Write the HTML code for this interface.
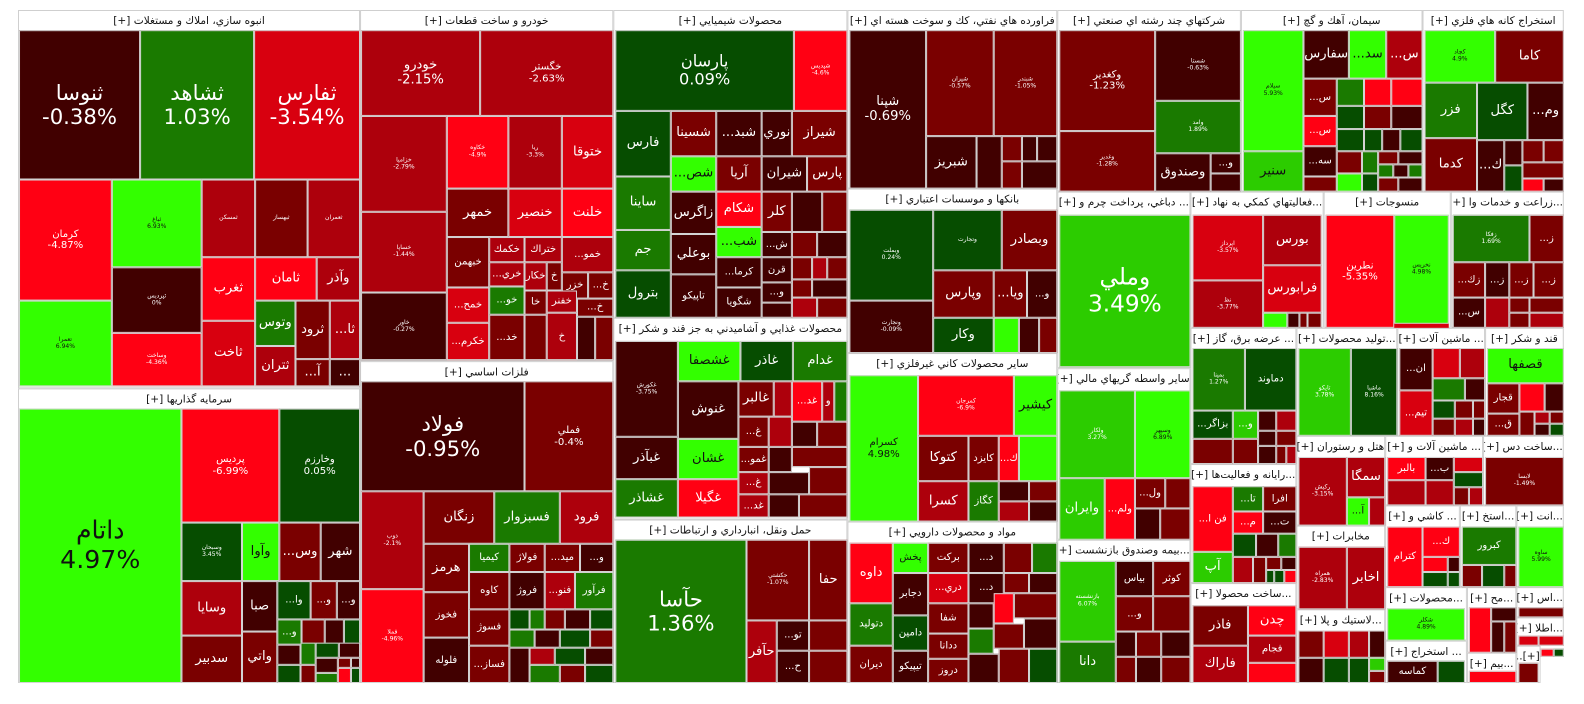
<!DOCTYPE html>
<html><head><meta charset="utf-8">
<style>
html,body{margin:0;padding:0;background:#fff;width:1584px;height:698px;overflow:hidden}
#w{position:absolute;left:0;top:0;width:1584px;height:698px;transform:scale(1.009);transform-origin:18px 10px;font-family:"DejaVu Sans","Liberation Sans",sans-serif}
.g{position:absolute;box-sizing:border-box;border:1px solid #cfcfcf;background:#fff}
.g>span{display:block;height:20px;line-height:20px;text-align:center;font-size:10.5px;color:#111;direction:rtl;white-space:nowrap;overflow:hidden}
.c{position:absolute;box-sizing:border-box;border:1px solid #d4d4d4;display:flex;align-items:center;justify-content:center;text-align:center;color:#fff;direction:ltr;overflow:hidden;line-height:1.15;font-size:12px;white-space:nowrap}
.a{background:#410000}.b{background:#7a0000}.cc{background:#ad000c}.d{background:#d8000f}.e{background:#ff0013}
.f{background:#064d00}.gg{background:#1a7a00}.h{background:#2ccc00}.i{background:#33ff00;color:#111}
.B{font-size:21px}.M{font-size:13px}.S{font-size:10px}.X{font-size:6px}
</style></head><body><div id="w">
<!-- groups -->
<div class="g" style="left:18px;top:10px;width:339px;height:375px"><span>انبوه سازي، املاك و مستغلات [+]</span></div>
<div class="g" style="left:18px;top:385px;width:339px;height:292px"><span>سرمايه گذاريها [+]</span></div>
<div class="g" style="left:357px;top:10px;width:251px;height:348px"><span>خودرو و ساخت قطعات [+]</span></div>
<div class="g" style="left:357px;top:358px;width:251px;height:319px"><span>فلزات اساسي [+]</span></div>
<div class="g" style="left:608px;top:10px;width:232px;height:305px"><span>محصولات شيميايي [+]</span></div>
<div class="g" style="left:608px;top:315px;width:232px;height:200px"><span>محصولات غذايي و آشاميدني به جز قند و شكر [+]</span></div>
<div class="g" style="left:608px;top:515px;width:232px;height:162px"><span>حمل ونقل، انبارداري و ارتباطات [+]</span></div>
<div class="g" style="left:840px;top:10px;width:208px;height:177px"><span>فراورده هاي نفتي، كك و سوخت هسته اي [+]</span></div>
<div class="g" style="left:840px;top:187px;width:208px;height:163px"><span>بانكها و موسسات اعتباري [+]</span></div>
<div class="g" style="left:840px;top:350px;width:208px;height:167px"><span>ساير محصولات كاني غيرفلزي [+]</span></div>
<div class="g" style="left:840px;top:517px;width:208px;height:160px"><span>مواد و محصولات دارويي [+]</span></div>
<div class="g" style="left:1048px;top:10px;width:182px;height:180px"><span>شركتهاي چند رشته اي صنعتي [+]</span></div>
<div class="g" style="left:1230px;top:10px;width:180px;height:180px"><span>سيمان، آهك و گچ [+]</span></div>
<div class="g" style="left:1410px;top:10px;width:140px;height:180px"><span>استخراج كانه هاي فلزي [+]</span></div>
<div class="g" style="left:1048px;top:190px;width:132px;height:175px"><span>... دباغي، پرداخت چرم و [+]</span></div>
<div class="g" style="left:1180px;top:190px;width:132px;height:135px"><span>...فعاليتهاي كمكي به نهاد [+]</span></div>
<div class="g" style="left:1312px;top:190px;width:126px;height:135px"><span>منسوجات [+]</span></div>
<div class="g" style="left:1438px;top:190px;width:112px;height:135px"><span>...زراعت و خدمات وا [+]</span></div>
<div class="g" style="left:1048px;top:365px;width:132px;height:170px"><span>ساير واسطه گريهاي مالي [+]</span></div>
<div class="g" style="left:1048px;top:535px;width:132px;height:142px"><span>...بيمه وصندوق بازنشست [+]</span></div>
<div class="g" style="left:1180px;top:325px;width:105px;height:135px"><span>... عرضه برق، گاز [+]</span></div>
<div class="g" style="left:1285px;top:325px;width:100px;height:107px"><span>...توليد محصولات [+]</span></div>
<div class="g" style="left:1385px;top:325px;width:87px;height:107px"><span>... ماشين آلات [+]</span></div>
<div class="g" style="left:1472px;top:325px;width:78px;height:107px"><span>قند و شكر [+]</span></div>
<div class="g" style="left:1180px;top:460px;width:105px;height:118px"><span>...رايانه و فعاليت‌ها [+]</span></div>
<div class="g" style="left:1180px;top:578px;width:105px;height:99px"><span>...ساخت محصولا [+]</span></div>
<div class="g" style="left:1285px;top:432px;width:88px;height:89px"><span>هتل و رستوران [+]</span></div>
<div class="g" style="left:1373px;top:432px;width:97px;height:69px"><span>... ماشين آلات و [+]</span></div>
<div class="g" style="left:1470px;top:432px;width:80px;height:69px"><span>...ساخت دس [+]</span></div>
<div class="g" style="left:1285px;top:521px;width:88px;height:83px"><span>مخابرات [+]</span></div>
<div class="g" style="left:1285px;top:604px;width:88px;height:73px"><span>...لاستيك و پلا [+]</span></div>
<div class="g" style="left:1373px;top:501px;width:74px;height:81px"><span>... كاشي و [+]</span></div>
<div class="g" style="left:1447px;top:501px;width:56px;height:81px"><span>...استخ [+]</span></div>
<div class="g" style="left:1503px;top:501px;width:47px;height:81px"><span>...انت [+]</span></div>
<div class="g" style="left:1373px;top:582px;width:81px;height:53px"><span>...محصولات [+]</span></div>
<div class="g" style="left:1373px;top:635px;width:81px;height:42px"><span>... استخراج [+]</span></div>
<div class="g" style="left:1454px;top:582px;width:49px;height:65px"><span>...مح [+]</span></div>
<div class="g" style="left:1454px;top:647px;width:49px;height:30px"><span>...بيم [+]</span></div>
<div class="g" style="left:1503px;top:582px;width:47px;height:30px"><span>...اس [+]</span></div>
<div class="g" style="left:1503px;top:612px;width:47px;height:28px"><span>...اطلا [+]</span></div>
<div class="g" style="left:1503px;top:640px;width:24px;height:37px"><span>[+]...</span></div>

<!-- A -->
<div class="c a B" style="left:19px;top:30px;width:120px;height:148px">ثنوسا<br>-0.38%</div>
<div class="c gg B" style="left:139px;top:30px;width:113px;height:148px">ثشاهد<br>1.03%</div>
<div class="c d B" style="left:252px;top:30px;width:105px;height:148px">ثفارس<br>-3.54%</div>
<div class="c e S" style="left:19px;top:178px;width:92px;height:120px">كرمان<br>-4.87%</div>
<div class="c i X" style="left:111px;top:178px;width:89px;height:87px">ثباغ<br>6.93%</div>
<div class="c cc X" style="left:200px;top:178px;width:53px;height:77px">ثمسكن</div>
<div class="c b X" style="left:253px;top:178px;width:52px;height:77px">ثبهساز</div>
<div class="c cc X" style="left:305px;top:178px;width:52px;height:77px">ثعمران</div>
<div class="c e M" style="left:253px;top:255px;width:61px;height:43px">ثامان</div>
<div class="c cc M" style="left:314px;top:255px;width:43px;height:43px">وآذر</div>
<div class="c e M" style="left:200px;top:255px;width:53px;height:63px">ثغرب</div>
<div class="c d M" style="left:200px;top:318px;width:53px;height:65px">ثاخت</div>
<div class="c gg M" style="left:253px;top:298px;width:40px;height:45px">وتوس</div>
<div class="c b M" style="left:293px;top:298px;width:34px;height:58px">ثرود</div>
<div class="c cc M" style="left:327px;top:298px;width:30px;height:58px">...ثا</div>
<div class="c cc M" style="left:253px;top:343px;width:40px;height:40px">ثتران</div>
<div class="c b M" style="left:293px;top:356px;width:34px;height:27px">...آ</div>
<div class="c a M" style="left:327px;top:356px;width:30px;height:27px">...</div>
<div class="c a X" style="left:111px;top:265px;width:89px;height:65px">ثپردیس<br>0%</div>
<div class="c e X" style="left:111px;top:330px;width:89px;height:53px">وساخت<br>-4.36%</div>
<div class="c i X" style="left:19px;top:298px;width:92px;height:85px">تعمرا<br>6.94%</div>
<!-- B -->
<div class="c i" style="left:19px;top:405px;width:161px;height:272px;font-size:25px">داتام<br>4.97%</div>
<div class="c e S" style="left:180px;top:405px;width:97px;height:113px">پرديس<br>-6.99%</div>
<div class="c f S" style="left:277px;top:405px;width:80px;height:113px">وخارزم<br>0.05%</div>
<div class="c f X" style="left:180px;top:518px;width:60px;height:58px">وسبحان<br>3.45%</div>
<div class="c i M" style="left:240px;top:518px;width:37px;height:58px">وآوا</div>
<div class="c b M" style="left:277px;top:518px;width:41px;height:58px">...وس</div>
<div class="c a M" style="left:318px;top:518px;width:39px;height:58px">شهر</div>
<div class="c cc M" style="left:180px;top:576px;width:60px;height:54px">وسايا</div>
<div class="c b M" style="left:180px;top:630px;width:60px;height:47px">سدبير</div>
<div class="c a M" style="left:240px;top:576px;width:35px;height:50px">صبا</div>
<div class="c b M" style="left:240px;top:626px;width:35px;height:51px">واتي</div>
<div class="c f S" style="left:275px;top:576px;width:33px;height:38px">...وا</div>
<div class="c b S" style="left:308px;top:576px;width:26px;height:38px">...و</div>
<div class="c a S" style="left:334px;top:576px;width:23px;height:38px">...و</div>
<div class="c gg S" style="left:275px;top:614px;width:24px;height:25px">...و</div>
<div class="c b" style="left:299px;top:614px;width:23px;height:25px"></div>
<div class="c a" style="left:322px;top:614px;width:19px;height:25px"></div>
<div class="c f" style="left:341px;top:614px;width:16px;height:25px"></div>
<div class="c a" style="left:275px;top:639px;width:23px;height:20px"></div>
<div class="c f" style="left:275px;top:659px;width:23px;height:18px"></div>
<div class="c gg" style="left:298px;top:637px;width:15px;height:22px"></div>
<div class="c b" style="left:298px;top:659px;width:15px;height:18px"></div>
<div class="c f" style="left:313px;top:637px;width:23px;height:15px"></div>
<div class="c a" style="left:336px;top:637px;width:21px;height:15px"></div>
<div class="c a" style="left:313px;top:652px;width:22px;height:15px"></div>
<div class="c gg" style="left:313px;top:667px;width:22px;height:10px"></div>
<div class="c b" style="left:335px;top:652px;width:13px;height:10px"></div>
<div class="c a" style="left:348px;top:652px;width:9px;height:10px"></div>
<div class="c e" style="left:335px;top:662px;width:13px;height:15px"></div>
<div class="c f" style="left:348px;top:662px;width:9px;height:15px"></div>
<!-- C -->
<div class="c cc M" style="left:358px;top:30px;width:118px;height:85px">خودرو<br>-2.15%</div>
<div class="c cc S" style="left:476px;top:30px;width:132px;height:85px">خگستر<br>-2.63%</div>
<div class="c cc X" style="left:358px;top:115px;width:85px;height:95px">خزاميا<br>-2.79%</div>
<div class="c cc X" style="left:358px;top:210px;width:85px;height:80px">خساپا<br>-1.44%</div>
<div class="c a X" style="left:358px;top:290px;width:85px;height:67px">خاور<br>-0.27%</div>
<div class="c e X" style="left:443px;top:115px;width:61px;height:72px">خكاوه<br>-4.9%</div>
<div class="c cc X" style="left:504px;top:115px;width:53px;height:72px">ريا<br>-3.3%</div>
<div class="c d M" style="left:557px;top:115px;width:51px;height:72px">ختوقا</div>
<div class="c b M" style="left:443px;top:187px;width:61px;height:48px">خمهر</div>
<div class="c d M" style="left:504px;top:187px;width:53px;height:48px">خنصير</div>
<div class="c e M" style="left:557px;top:187px;width:51px;height:48px">خلنت</div>
<div class="c b S" style="left:443px;top:235px;width:42px;height:50px">خبهمن</div>
<div class="c cc S" style="left:485px;top:235px;width:35px;height:25px">خكمك</div>
<div class="c cc S" style="left:520px;top:235px;width:37px;height:25px">ختراك</div>
<div class="c cc S" style="left:557px;top:235px;width:51px;height:35px">...خمو</div>
<div class="c cc S" style="left:485px;top:260px;width:35px;height:24px">...خري</div>
<div class="c cc S" style="left:520px;top:260px;width:22px;height:28px">خكار</div>
<div class="c b S" style="left:542px;top:260px;width:15px;height:28px">خ</div>
<div class="c b S" style="left:557px;top:270px;width:26px;height:26px">خزر</div>
<div class="c b S" style="left:583px;top:270px;width:25px;height:26px">...خ</div>
<div class="c d S" style="left:443px;top:285px;width:42px;height:35px">...خمح</div>
<div class="c gg S" style="left:485px;top:284px;width:35px;height:28px">...خو</div>
<div class="c b S" style="left:520px;top:288px;width:22px;height:24px">خا</div>
<div class="c cc S" style="left:542px;top:288px;width:30px;height:22px">خفنر</div>
<div class="c b S" style="left:572px;top:296px;width:36px;height:18px">...خ</div>
<div class="c d S" style="left:443px;top:320px;width:42px;height:37px">...خكرم</div>
<div class="c b S" style="left:485px;top:312px;width:35px;height:45px">...خد</div>
<div class="c b" style="left:520px;top:312px;width:22px;height:45px"></div>
<div class="c cc S" style="left:542px;top:310px;width:30px;height:47px">خ</div>
<div class="c a" style="left:572px;top:314px;width:18px;height:43px"></div>
<div class="c b" style="left:590px;top:314px;width:18px;height:43px"></div>
<!-- D -->
<div class="c a B" style="left:358px;top:378px;width:162px;height:109px">فولاد<br>-0.95%</div>
<div class="c b S" style="left:520px;top:378px;width:88px;height:109px">فملي<br>-0.4%</div>
<div class="c cc X" style="left:358px;top:487px;width:62px;height:97px">ذوب<br>-2.1%</div>
<div class="c e X" style="left:358px;top:584px;width:62px;height:93px">فملا<br>-4.96%</div>
<div class="c b M" style="left:420px;top:487px;width:70px;height:52px">زنگان</div>
<div class="c gg M" style="left:490px;top:487px;width:65px;height:52px">فسبزوار</div>
<div class="c cc M" style="left:555px;top:487px;width:53px;height:52px">فرود</div>
<div class="c b M" style="left:420px;top:539px;width:45px;height:48px">هرمز</div>
<div class="c gg S" style="left:465px;top:539px;width:40px;height:28px">كيميا</div>
<div class="c b S" style="left:505px;top:539px;width:35px;height:28px">فولاژ</div>
<div class="c b S" style="left:540px;top:539px;width:35px;height:28px">...ميد</div>
<div class="c a S" style="left:575px;top:539px;width:33px;height:28px">...و</div>
<div class="c b S" style="left:420px;top:587px;width:45px;height:45px">فخوز</div>
<div class="c a S" style="left:420px;top:632px;width:45px;height:45px">فلوله</div>
<div class="c b S" style="left:465px;top:567px;width:40px;height:37px">كاوه</div>
<div class="c a S" style="left:505px;top:567px;width:35px;height:37px">فروژ</div>
<div class="c cc S" style="left:540px;top:567px;width:30px;height:37px">...فنو</div>
<div class="c gg S" style="left:570px;top:567px;width:38px;height:37px">فرآور</div>
<div class="c b S" style="left:465px;top:604px;width:40px;height:36px">فسوژ</div>
<div class="c b S" style="left:465px;top:640px;width:40px;height:37px">...فساز</div>
<div class="c f" style="left:505px;top:604px;width:20px;height:20px"></div>
<div class="c gg" style="left:525px;top:604px;width:15px;height:20px"></div>
<div class="c b" style="left:540px;top:604px;width:20px;height:20px"></div>
<div class="c a" style="left:560px;top:604px;width:25px;height:20px"></div>
<div class="c f" style="left:585px;top:604px;width:23px;height:20px"></div>
<div class="c gg" style="left:505px;top:624px;width:25px;height:18px"></div>
<div class="c a" style="left:530px;top:624px;width:25px;height:18px"></div>
<div class="c f" style="left:555px;top:624px;width:30px;height:18px"></div>
<div class="c b" style="left:585px;top:624px;width:23px;height:18px"></div>
<div class="c a" style="left:505px;top:642px;width:20px;height:35px"></div>
<div class="c cc" style="left:525px;top:642px;width:25px;height:17px"></div>
<div class="c f" style="left:550px;top:642px;width:30px;height:17px"></div>
<div class="c a" style="left:580px;top:642px;width:28px;height:17px"></div>
<div class="c gg" style="left:525px;top:659px;width:30px;height:18px"></div>
<div class="c b" style="left:555px;top:659px;width:25px;height:18px"></div>
<div class="c f" style="left:580px;top:659px;width:28px;height:18px"></div>
<!-- E -->
<div class="c f" style="left:610px;top:30px;width:177px;height:80px;font-size:16px">پارسان<br>0.09%</div>
<div class="c e X" style="left:787px;top:30px;width:53px;height:80px">شپديس<br>-4.6%</div>
<div class="c f M" style="left:610px;top:110px;width:55px;height:65px">فارس</div>
<div class="c b M" style="left:665px;top:110px;width:45px;height:45px">شسينا</div>
<div class="c a M" style="left:710px;top:110px;width:45px;height:45px">...شبد</div>
<div class="c a M" style="left:755px;top:110px;width:30px;height:45px">نوري</div>
<div class="c b M" style="left:785px;top:110px;width:55px;height:45px">شيراز</div>
<div class="c gg M" style="left:610px;top:175px;width:55px;height:53px">ساينا</div>
<div class="c gg M" style="left:610px;top:228px;width:55px;height:40px">جم</div>
<div class="c f M" style="left:610px;top:268px;width:55px;height:47px">بترول</div>
<div class="c i M" style="left:665px;top:155px;width:45px;height:35px">...شص</div>
<div class="c a M" style="left:665px;top:190px;width:45px;height:42px">زاگرس</div>
<div class="c a M" style="left:665px;top:232px;width:45px;height:40px">بوعلي</div>
<div class="c a S" style="left:665px;top:272px;width:45px;height:43px">تاپيكو</div>
<div class="c b M" style="left:710px;top:155px;width:45px;height:35px">آريا</div>
<div class="c a M" style="left:755px;top:155px;width:45px;height:35px">شيران</div>
<div class="c b M" style="left:800px;top:155px;width:40px;height:35px">پارس</div>
<div class="c e M" style="left:710px;top:190px;width:45px;height:35px">شكام</div>
<div class="c b M" style="left:755px;top:190px;width:30px;height:40px">كلر</div>
<div class="c a" style="left:785px;top:190px;width:30px;height:40px"></div>
<div class="c b" style="left:815px;top:190px;width:25px;height:40px"></div>
<div class="c i M" style="left:710px;top:225px;width:45px;height:30px">...شب</div>
<div class="c a S" style="left:755px;top:230px;width:30px;height:25px">...ش</div>
<div class="c b" style="left:785px;top:230px;width:25px;height:25px"></div>
<div class="c a" style="left:810px;top:230px;width:30px;height:25px"></div>
<div class="c a S" style="left:710px;top:255px;width:45px;height:30px">...كرما</div>
<div class="c a S" style="left:755px;top:255px;width:30px;height:25px">قرن</div>
<div class="c b" style="left:785px;top:255px;width:20px;height:22px"></div>
<div class="c cc" style="left:805px;top:255px;width:15px;height:22px"></div>
<div class="c b" style="left:820px;top:255px;width:20px;height:22px"></div>
<div class="c a S" style="left:710px;top:285px;width:45px;height:30px">شگويا</div>
<div class="c a S" style="left:755px;top:280px;width:30px;height:20px">...و</div>
<div class="c b" style="left:785px;top:277px;width:20px;height:18px"></div>
<div class="c a" style="left:805px;top:277px;width:35px;height:18px"></div>
<div class="c a" style="left:755px;top:300px;width:30px;height:15px"></div>
<div class="c cc" style="left:785px;top:295px;width:25px;height:20px"></div>
<div class="c b" style="left:810px;top:295px;width:30px;height:20px"></div>
<!-- F -->
<div class="c a X" style="left:610px;top:338px;width:62px;height:95px">غكورش<br>-3.75%</div>
<div class="c i M" style="left:672px;top:338px;width:62px;height:40px">غشصفا</div>
<div class="c f M" style="left:734px;top:338px;width:52px;height:40px">غاذر</div>
<div class="c gg M" style="left:786px;top:338px;width:54px;height:40px">غدام</div>
<div class="c a M" style="left:610px;top:433px;width:62px;height:42px">غبآذر</div>
<div class="c gg M" style="left:610px;top:475px;width:62px;height:38px">غشاذر</div>
<div class="c a M" style="left:672px;top:378px;width:60px;height:57px">غنوش</div>
<div class="c b M" style="left:732px;top:378px;width:35px;height:35px">غالبر</div>
<div class="c cc" style="left:767px;top:378px;width:18px;height:35px"></div>
<div class="c e S" style="left:785px;top:378px;width:30px;height:40px">...غد</div>
<div class="c cc S" style="left:815px;top:378px;width:12px;height:40px">و</div>
<div class="c gg" style="left:827px;top:378px;width:13px;height:40px"></div>
<div class="c i M" style="left:672px;top:435px;width:60px;height:40px">غشان</div>
<div class="c b S" style="left:732px;top:413px;width:30px;height:30px">...غ</div>
<div class="c cc" style="left:762px;top:413px;width:23px;height:30px"></div>
<div class="c a" style="left:785px;top:418px;width:25px;height:25px"></div>
<div class="c b" style="left:810px;top:418px;width:30px;height:25px"></div>
<div class="c e M" style="left:672px;top:475px;width:60px;height:38px">غگيلا</div>
<div class="c b S" style="left:732px;top:443px;width:30px;height:25px">...غمو</div>
<div class="c a" style="left:762px;top:443px;width:23px;height:25px"></div>
<div class="c b" style="left:785px;top:443px;width:55px;height:20px"></div>
<div class="c cc S" style="left:732px;top:468px;width:30px;height:22px">...غ</div>
<div class="c a" style="left:762px;top:468px;width:40px;height:22px"></div>
<div class="c b" style="left:802px;top:463px;width:38px;height:27px"></div>
<div class="c cc S" style="left:732px;top:490px;width:30px;height:23px">...غد</div>
<div class="c a" style="left:762px;top:490px;width:30px;height:23px"></div>
<div class="c b" style="left:792px;top:490px;width:48px;height:23px"></div>
<!-- G -->
<div class="c gg B" style="left:610px;top:535px;width:130px;height:142px">حآسا<br>1.36%</div>
<div class="c b X" style="left:740px;top:535px;width:62px;height:80px">حكشتي<br>-1.07%</div>
<div class="c b M" style="left:802px;top:535px;width:38px;height:80px">حفا</div>
<div class="c cc M" style="left:740px;top:615px;width:30px;height:62px">حآفر</div>
<div class="c a S" style="left:770px;top:615px;width:32px;height:30px">...تو</div>
<div class="c b" style="left:802px;top:615px;width:38px;height:30px"></div>
<div class="c a S" style="left:770px;top:645px;width:32px;height:32px">...ح</div>
<div class="c b" style="left:802px;top:645px;width:38px;height:32px"></div>
<!-- H -->
<div class="c a M" style="left:842px;top:30px;width:76px;height:157px">شپنا<br>-0.69%</div>
<div class="c b X" style="left:918px;top:30px;width:67px;height:105px">شپران<br>-0.57%</div>
<div class="c b X" style="left:985px;top:30px;width:63px;height:105px">شبندر<br>-1.05%</div>
<div class="c a M" style="left:918px;top:135px;width:50px;height:52px">شبريز</div>
<div class="c a" style="left:968px;top:135px;width:25px;height:52px"></div>
<div class="c b" style="left:993px;top:135px;width:20px;height:25px"></div>
<div class="c a" style="left:1013px;top:135px;width:15px;height:25px"></div>
<div class="c a" style="left:1028px;top:135px;width:20px;height:25px"></div>
<div class="c b" style="left:993px;top:160px;width:20px;height:27px"></div>
<div class="c a" style="left:1013px;top:160px;width:35px;height:27px"></div>
<!-- I -->
<div class="c f X" style="left:842px;top:208px;width:83px;height:90px">وبملت<br>0.24%</div>
<div class="c f X" style="left:925px;top:208px;width:68px;height:60px">وتجارت</div>
<div class="c b M" style="left:993px;top:208px;width:55px;height:60px">وبصادر</div>
<div class="c a X" style="left:842px;top:298px;width:83px;height:52px">ونجارت<br>-0.09%</div>
<div class="c b M" style="left:925px;top:268px;width:60px;height:47px">وپارس</div>
<div class="c b M" style="left:985px;top:268px;width:33px;height:47px">...ويا</div>
<div class="c a S" style="left:1018px;top:268px;width:30px;height:47px">...و</div>
<div class="c f M" style="left:925px;top:315px;width:60px;height:35px">وكار</div>
<div class="c i" style="left:985px;top:315px;width:25px;height:35px"></div>
<div class="c a" style="left:1010px;top:315px;width:20px;height:35px"></div>
<div class="c b" style="left:1030px;top:315px;width:18px;height:35px"></div>
<!-- J -->
<div class="c i S" style="left:842px;top:372px;width:68px;height:145px">كسرام<br>4.98%</div>
<div class="c e X" style="left:910px;top:372px;width:95px;height:60px">كمرجان<br>-6.9%</div>
<div class="c i M" style="left:1005px;top:372px;width:43px;height:60px">كيشير</div>
<div class="c b M" style="left:910px;top:432px;width:50px;height:45px">كتوكا</div>
<div class="c b S" style="left:960px;top:432px;width:30px;height:45px">كايزد</div>
<div class="c e S" style="left:990px;top:432px;width:20px;height:45px">...ك</div>
<div class="c i" style="left:1010px;top:432px;width:38px;height:45px"></div>
<div class="c cc M" style="left:910px;top:477px;width:50px;height:40px">كسرا</div>
<div class="c gg S" style="left:960px;top:477px;width:30px;height:40px">كگاز</div>
<div class="c a" style="left:990px;top:477px;width:30px;height:20px"></div>
<div class="c b" style="left:1020px;top:477px;width:28px;height:20px"></div>
<div class="c cc" style="left:990px;top:497px;width:30px;height:20px"></div>
<div class="c a" style="left:1020px;top:497px;width:28px;height:20px"></div>
<!-- K -->
<div class="c e M" style="left:842px;top:538px;width:43px;height:60px">داوه</div>
<div class="c i S" style="left:885px;top:538px;width:35px;height:30px">پخش</div>
<div class="c b S" style="left:920px;top:538px;width:40px;height:30px">بركت</div>
<div class="c a S" style="left:960px;top:538px;width:35px;height:30px">...د</div>
<div class="c b" style="left:995px;top:538px;width:28px;height:30px"></div>
<div class="c gg" style="left:1023px;top:538px;width:25px;height:30px"></div>
<div class="c gg S" style="left:842px;top:598px;width:43px;height:42px">دتوليد</div>
<div class="c b S" style="left:842px;top:640px;width:43px;height:37px">ديران</div>
<div class="c a S" style="left:885px;top:568px;width:35px;height:42px">دجابر</div>
<div class="c f S" style="left:885px;top:610px;width:35px;height:35px">دامين</div>
<div class="c a S" style="left:885px;top:645px;width:35px;height:32px">تيپيكو</div>
<div class="c d S" style="left:920px;top:568px;width:40px;height:30px">...دري</div>
<div class="c a S" style="left:960px;top:568px;width:35px;height:30px">...د</div>
<div class="c b" style="left:995px;top:568px;width:25px;height:20px"></div>
<div class="c a" style="left:1020px;top:568px;width:28px;height:20px"></div>
<div class="c b S" style="left:920px;top:598px;width:40px;height:30px">شفا</div>
<div class="c b S" style="left:920px;top:628px;width:40px;height:25px">ددانا</div>
<div class="c b S" style="left:920px;top:653px;width:40px;height:24px">دروز</div>
<div class="c a" style="left:960px;top:598px;width:25px;height:25px"></div>
<div class="c e" style="left:985px;top:588px;width:20px;height:30px"></div>
<div class="c b" style="left:1005px;top:588px;width:43px;height:25px"></div>
<div class="c gg" style="left:960px;top:623px;width:25px;height:25px"></div>
<div class="c b" style="left:985px;top:618px;width:30px;height:25px"></div>
<div class="c a" style="left:1015px;top:613px;width:33px;height:30px"></div>
<div class="c a" style="left:960px;top:648px;width:30px;height:29px"></div>
<div class="c b" style="left:990px;top:643px;width:30px;height:34px"></div>
<div class="c f" style="left:1020px;top:643px;width:28px;height:34px"></div>
<!-- L -->
<div class="c b S" style="left:1050px;top:30px;width:95px;height:100px">وكغدير<br>-1.23%</div>
<div class="c a X" style="left:1145px;top:30px;width:85px;height:70px">شستا<br>-0.63%</div>
<div class="c gg X" style="left:1145px;top:100px;width:85px;height:52px">وامد<br>1.89%</div>
<div class="c b X" style="left:1050px;top:130px;width:95px;height:60px">وغدير<br>-1.28%</div>
<div class="c a M" style="left:1145px;top:152px;width:55px;height:38px">وصندوق</div>
<div class="c a S" style="left:1200px;top:152px;width:30px;height:20px">...و</div>
<div class="c a" style="left:1200px;top:172px;width:30px;height:18px"></div>
<!-- P -->
<div class="c i X" style="left:1232px;top:30px;width:60px;height:120px">سيلام<br>5.93%</div>
<div class="c h M" style="left:1232px;top:150px;width:60px;height:40px;color:#111">سنير</div>
<div class="c a M" style="left:1292px;top:30px;width:45px;height:48px">سفارس</div>
<div class="c i M" style="left:1337px;top:30px;width:37px;height:48px">...سد</div>
<div class="c cc M" style="left:1374px;top:30px;width:36px;height:48px">...س</div>
<div class="c b S" style="left:1292px;top:78px;width:33px;height:37px">...س</div>
<div class="c e S" style="left:1292px;top:115px;width:33px;height:30px">...س</div>
<div class="c a S" style="left:1292px;top:145px;width:33px;height:30px">...سه</div>
<div class="c b" style="left:1292px;top:175px;width:33px;height:15px"></div>
<div class="c gg" style="left:1325px;top:78px;width:27px;height:27px"></div>
<div class="c e" style="left:1352px;top:78px;width:27px;height:27px"></div>
<div class="c e" style="left:1379px;top:78px;width:31px;height:27px"></div>
<div class="c f" style="left:1325px;top:105px;width:27px;height:23px"></div>
<div class="c b" style="left:1352px;top:105px;width:27px;height:23px"></div>
<div class="c a" style="left:1379px;top:105px;width:31px;height:23px"></div>
<div class="c f" style="left:1325px;top:128px;width:27px;height:22px"></div>
<div class="c f" style="left:1352px;top:128px;width:18px;height:22px"></div>
<div class="c a" style="left:1370px;top:128px;width:18px;height:22px"></div>
<div class="c f" style="left:1388px;top:128px;width:22px;height:22px"></div>
<div class="c b" style="left:1325px;top:150px;width:25px;height:22px"></div>
<div class="c gg" style="left:1350px;top:150px;width:16px;height:22px"></div>
<div class="c b" style="left:1366px;top:150px;width:20px;height:13px"></div>
<div class="c a" style="left:1386px;top:150px;width:24px;height:13px"></div>
<div class="c gg" style="left:1366px;top:163px;width:15px;height:13px"></div>
<div class="c a" style="left:1381px;top:163px;width:15px;height:13px"></div>
<div class="c gg" style="left:1396px;top:163px;width:14px;height:13px"></div>
<div class="c i" style="left:1325px;top:172px;width:25px;height:18px"></div>
<div class="c f" style="left:1350px;top:172px;width:16px;height:18px"></div>
<div class="c b" style="left:1366px;top:176px;width:20px;height:14px"></div>
<div class="c a" style="left:1386px;top:176px;width:24px;height:14px"></div>
<!-- Q -->
<div class="c i X" style="left:1412px;top:30px;width:70px;height:52px">كچاد<br>4.9%</div>
<div class="c b M" style="left:1482px;top:30px;width:68px;height:52px">كاما</div>
<div class="c gg M" style="left:1412px;top:82px;width:52px;height:55px">فزر</div>
<div class="c f M" style="left:1464px;top:82px;width:50px;height:57px">كگل</div>
<div class="c a M" style="left:1514px;top:82px;width:36px;height:57px">...وم</div>
<div class="c b M" style="left:1412px;top:137px;width:52px;height:53px">كدما</div>
<div class="c a M" style="left:1464px;top:139px;width:27px;height:51px">...ك</div>
<div class="c a" style="left:1491px;top:139px;width:18px;height:25px"></div>
<div class="c b" style="left:1509px;top:139px;width:21px;height:22px"></div>
<div class="c b" style="left:1530px;top:139px;width:20px;height:22px"></div>
<div class="c f" style="left:1491px;top:164px;width:18px;height:26px"></div>
<div class="c b" style="left:1509px;top:161px;width:41px;height:16px"></div>
<div class="c e" style="left:1509px;top:177px;width:21px;height:13px"></div>
<div class="c a" style="left:1530px;top:177px;width:20px;height:13px"></div>
<!-- M -->
<div class="c h" style="left:1050px;top:213px;width:130px;height:151px;font-size:23px">وملي<br>3.49%</div>
<!-- R -->
<div class="c d X" style="left:1182px;top:213px;width:70px;height:65px">اپرداز<br>-3.57%</div>
<div class="c cc M" style="left:1252px;top:213px;width:58px;height:50px">بورس</div>
<div class="c cc X" style="left:1182px;top:278px;width:70px;height:47px">نظ<br>-3.77%</div>
<div class="c d M" style="left:1252px;top:263px;width:58px;height:47px">فرابورس</div>
<div class="c i" style="left:1252px;top:310px;width:24px;height:15px"></div>
<div class="c a" style="left:1276px;top:310px;width:12px;height:15px"></div>
<div class="c b" style="left:1288px;top:310px;width:8px;height:15px"></div>
<div class="c b" style="left:1296px;top:310px;width:14px;height:15px"></div>
<!-- S -->
<div class="c e S" style="left:1314px;top:213px;width:68px;height:112px">نطرين<br>-5.35%</div>
<div class="c i X" style="left:1382px;top:213px;width:54px;height:108px">نخريس<br>4.98%</div>
<div class="c d" style="left:1382px;top:321px;width:54px;height:4px;border:0"></div>
<!-- T -->
<div class="c gg X" style="left:1440px;top:213px;width:76px;height:47px">زفكا<br>1.69%</div>
<div class="c b S" style="left:1516px;top:213px;width:34px;height:47px">...ز</div>
<div class="c b S" style="left:1440px;top:260px;width:32px;height:35px">...زك</div>
<div class="c a S" style="left:1472px;top:260px;width:24px;height:35px">...ز</div>
<div class="c b S" style="left:1496px;top:260px;width:24px;height:35px">...ز</div>
<div class="c b S" style="left:1520px;top:260px;width:30px;height:35px">...ز</div>
<div class="c a S" style="left:1440px;top:295px;width:32px;height:30px">...س</div>
<div class="c cc" style="left:1472px;top:295px;width:24px;height:30px"></div>
<div class="c b" style="left:1496px;top:295px;width:20px;height:15px"></div>
<div class="c b" style="left:1516px;top:295px;width:34px;height:15px"></div>
<div class="c b" style="left:1496px;top:310px;width:20px;height:15px"></div>
<div class="c cc" style="left:1516px;top:310px;width:34px;height:15px"></div>
<!-- N -->
<div class="c h X" style="left:1050px;top:387px;width:75px;height:87px">ولكار<br>3.27%</div>
<div class="c i X" style="left:1125px;top:387px;width:55px;height:87px">وسپهر<br>6.89%</div>
<div class="c h M" style="left:1050px;top:474px;width:45px;height:61px">وايران</div>
<div class="c e S" style="left:1095px;top:474px;width:30px;height:61px">...ولم</div>
<div class="c b S" style="left:1125px;top:474px;width:30px;height:30px">...ول</div>
<div class="c b" style="left:1155px;top:474px;width:25px;height:30px"></div>
<div class="c a" style="left:1125px;top:504px;width:25px;height:31px"></div>
<div class="c b" style="left:1150px;top:504px;width:30px;height:31px"></div>
<!-- O -->
<div class="c h X" style="left:1050px;top:556px;width:56px;height:80px">بازنشسته<br>6.07%</div>
<div class="c gg M" style="left:1050px;top:636px;width:56px;height:41px">دانا</div>
<div class="c a S" style="left:1106px;top:556px;width:37px;height:35px">بياس</div>
<div class="c b S" style="left:1143px;top:556px;width:37px;height:35px">كوثر</div>
<div class="c b S" style="left:1106px;top:591px;width:37px;height:35px">...و</div>
<div class="c b" style="left:1143px;top:591px;width:37px;height:35px"></div>
<div class="c a" style="left:1106px;top:626px;width:20px;height:25px"></div>
<div class="c b" style="left:1126px;top:626px;width:25px;height:25px"></div>
<div class="c a" style="left:1151px;top:626px;width:29px;height:25px"></div>
<div class="c b" style="left:1106px;top:651px;width:20px;height:26px"></div>
<div class="c a" style="left:1126px;top:651px;width:25px;height:26px"></div>
<div class="c b" style="left:1151px;top:651px;width:29px;height:26px"></div>
<!-- U -->
<div class="c gg X" style="left:1182px;top:345px;width:52px;height:62px">بمپنا<br>1.27%</div>
<div class="c f S" style="left:1234px;top:345px;width:51px;height:62px">دماوند</div>
<div class="c f S" style="left:1182px;top:407px;width:40px;height:28px">...بزاگر</div>
<div class="c h S" style="left:1222px;top:407px;width:25px;height:28px">...و</div>
<div class="c a" style="left:1247px;top:407px;width:18px;height:20px"></div>
<div class="c cc" style="left:1265px;top:407px;width:20px;height:20px"></div>
<div class="c a" style="left:1247px;top:427px;width:18px;height:15px"></div>
<div class="c b" style="left:1265px;top:427px;width:20px;height:15px"></div>
<div class="c b" style="left:1182px;top:435px;width:40px;height:25px"></div>
<div class="c b" style="left:1222px;top:435px;width:25px;height:25px"></div>
<div class="c a" style="left:1247px;top:442px;width:18px;height:18px"></div>
<div class="c b" style="left:1265px;top:442px;width:10px;height:18px"></div>
<div class="c cc" style="left:1275px;top:442px;width:10px;height:18px"></div>
<!-- V -->
<div class="c h X" style="left:1287px;top:345px;width:52px;height:87px">تاپكو<br>3.78%</div>
<div class="c f X" style="left:1339px;top:345px;width:46px;height:87px">ماشيا<br>8.16%</div>
<!-- W -->
<div class="c a S" style="left:1387px;top:345px;width:33px;height:42px">...ان</div>
<div class="c d" style="left:1420px;top:345px;width:27px;height:30px"></div>
<div class="c cc" style="left:1447px;top:345px;width:25px;height:30px"></div>
<div class="c d S" style="left:1387px;top:387px;width:33px;height:45px">...تيم</div>
<div class="c gg" style="left:1420px;top:375px;width:32px;height:22px"></div>
<div class="c a" style="left:1452px;top:375px;width:20px;height:22px"></div>
<div class="c f" style="left:1420px;top:397px;width:22px;height:18px"></div>
<div class="c b" style="left:1442px;top:397px;width:18px;height:18px"></div>
<div class="c b" style="left:1460px;top:397px;width:12px;height:18px"></div>
<div class="c b" style="left:1420px;top:415px;width:22px;height:17px"></div>
<div class="c cc" style="left:1442px;top:415px;width:18px;height:17px"></div>
<div class="c a" style="left:1460px;top:415px;width:12px;height:17px"></div>
<!-- X -->
<div class="c i M" style="left:1474px;top:345px;width:76px;height:35px">قصفها</div>
<div class="c b S" style="left:1474px;top:380px;width:32px;height:30px">قجار</div>
<div class="c e" style="left:1506px;top:380px;width:25px;height:28px"></div>
<div class="c a" style="left:1531px;top:380px;width:19px;height:28px"></div>
<div class="c b S" style="left:1474px;top:410px;width:32px;height:22px">...ق</div>
<div class="c b" style="left:1506px;top:408px;width:15px;height:24px"></div>
<div class="c cc" style="left:1521px;top:408px;width:15px;height:12px"></div>
<div class="c b" style="left:1536px;top:408px;width:14px;height:12px"></div>
<div class="c a" style="left:1521px;top:420px;width:15px;height:12px"></div>
<div class="c f" style="left:1536px;top:420px;width:14px;height:12px"></div>
<!-- Y -->
<div class="c e S" style="left:1182px;top:482px;width:40px;height:65px">...فن ا</div>
<div class="c gg S" style="left:1222px;top:482px;width:30px;height:25px">...تا</div>
<div class="c b S" style="left:1252px;top:482px;width:33px;height:25px">افرا</div>
<div class="c e S" style="left:1222px;top:507px;width:30px;height:22px">...م</div>
<div class="c a S" style="left:1252px;top:507px;width:33px;height:22px">...ت</div>
<div class="c f" style="left:1222px;top:529px;width:23px;height:23px"></div>
<div class="c a" style="left:1245px;top:529px;width:22px;height:23px"></div>
<div class="c gg" style="left:1267px;top:529px;width:18px;height:23px"></div>
<div class="c h M" style="left:1182px;top:547px;width:40px;height:31px">آپ</div>
<div class="c cc" style="left:1222px;top:552px;width:20px;height:26px"></div>
<div class="c b" style="left:1242px;top:552px;width:13px;height:26px"></div>
<div class="c b" style="left:1255px;top:552px;width:15px;height:13px"></div>
<div class="c a" style="left:1270px;top:552px;width:15px;height:13px"></div>
<div class="c f" style="left:1255px;top:565px;width:8px;height:13px"></div>
<div class="c f" style="left:1263px;top:565px;width:10px;height:13px"></div>
<div class="c e" style="left:1273px;top:565px;width:12px;height:13px"></div>
<!-- Z -->
<div class="c b M" style="left:1182px;top:600px;width:55px;height:40px">فاذر</div>
<div class="c e M" style="left:1237px;top:600px;width:48px;height:30px">چدن</div>
<div class="c cc M" style="left:1182px;top:640px;width:55px;height:37px">فاراك</div>
<div class="c cc S" style="left:1237px;top:630px;width:48px;height:27px">فجام</div>
<div class="c e" style="left:1237px;top:657px;width:48px;height:20px"></div>
<!-- AA -->
<div class="c cc X" style="left:1287px;top:453px;width:48px;height:68px">ركیش<br>-3.15%</div>
<div class="c cc M" style="left:1335px;top:453px;width:38px;height:40px">سمگا</div>
<div class="c i S" style="left:1335px;top:493px;width:22px;height:28px">...آ</div>
<div class="c cc" style="left:1357px;top:493px;width:16px;height:28px"></div>
<!-- AB -->
<div class="c e S" style="left:1375px;top:453px;width:38px;height:23px">بالبر</div>
<div class="c a S" style="left:1413px;top:453px;width:28px;height:23px">...ب</div>
<div class="c d" style="left:1441px;top:453px;width:29px;height:15px"></div>
<div class="c cc" style="left:1375px;top:476px;width:38px;height:25px"></div>
<div class="c cc" style="left:1413px;top:476px;width:28px;height:25px"></div>
<div class="c f" style="left:1441px;top:468px;width:29px;height:15px"></div>
<div class="c b" style="left:1441px;top:483px;width:15px;height:18px"></div>
<div class="c cc" style="left:1456px;top:483px;width:14px;height:18px"></div>
<!-- AC -->
<div class="c b X" style="left:1472px;top:453px;width:78px;height:48px">لابسا<br>-1.49%</div>
<!-- AD / AE -->
<div class="c cc X" style="left:1287px;top:542px;width:48px;height:62px">همراه<br>-2.83%</div>
<div class="c cc M" style="left:1335px;top:542px;width:38px;height:62px">اخابر</div>
<div class="c b" style="left:1287px;top:625px;width:25px;height:27px"></div>
<div class="c d" style="left:1312px;top:625px;width:25px;height:27px"></div>
<div class="c cc" style="left:1337px;top:625px;width:20px;height:27px"></div>
<div class="c a" style="left:1357px;top:625px;width:16px;height:27px"></div>
<div class="c a" style="left:1287px;top:652px;width:25px;height:25px"></div>
<div class="c f" style="left:1312px;top:652px;width:25px;height:25px"></div>
<div class="c f" style="left:1337px;top:652px;width:20px;height:25px"></div>
<div class="c h" style="left:1357px;top:652px;width:16px;height:13px"></div>
<div class="c b" style="left:1357px;top:665px;width:16px;height:12px"></div>
<!-- AF AG AH -->
<div class="c e S" style="left:1375px;top:522px;width:35px;height:60px">كترام</div>
<div class="c e S" style="left:1410px;top:522px;width:37px;height:30px">...ك</div>
<div class="c e" style="left:1410px;top:552px;width:25px;height:15px"></div>
<div class="c a" style="left:1435px;top:552px;width:12px;height:15px"></div>
<div class="c f" style="left:1410px;top:567px;width:25px;height:15px"></div>
<div class="c f" style="left:1435px;top:567px;width:12px;height:15px"></div>
<div class="c gg S" style="left:1449px;top:522px;width:54px;height:38px">كبرور</div>
<div class="c b" style="left:1449px;top:560px;width:20px;height:22px"></div>
<div class="c f" style="left:1469px;top:560px;width:22px;height:22px"></div>
<div class="c b" style="left:1491px;top:560px;width:12px;height:22px"></div>
<div class="c i X" style="left:1505px;top:522px;width:45px;height:60px">ساوه<br>5.99%</div>
<!-- AI AJ AK AL AM AN -->
<div class="c i X" style="left:1375px;top:603px;width:77px;height:32px">شكلر<br>4.89%</div>
<div class="c a S" style="left:1375px;top:655px;width:50px;height:22px">كماسه</div>
<div class="c f" style="left:1425px;top:655px;width:27px;height:22px"></div>
<div class="c e" style="left:1456px;top:602px;width:22px;height:45px"></div>
<div class="c a" style="left:1478px;top:602px;width:25px;height:14px"></div>
<div class="c a" style="left:1478px;top:616px;width:13px;height:31px"></div>
<div class="c b" style="left:1491px;top:616px;width:12px;height:31px"></div>
<div class="c e" style="left:1456px;top:665px;width:47px;height:12px"></div>
<div class="c b" style="left:1505px;top:602px;width:45px;height:10px"></div>
<div class="c d" style="left:1505px;top:630px;width:20px;height:10px"></div>
<div class="c d" style="left:1525px;top:630px;width:25px;height:10px"></div>
<div class="c b" style="left:1505px;top:657px;width:20px;height:20px"></div>
<div class="c e" style="left:1527px;top:643px;width:13px;height:8px"></div>
<div class="c f" style="left:1540px;top:643px;width:10px;height:8px"></div>
</div></body></html>
